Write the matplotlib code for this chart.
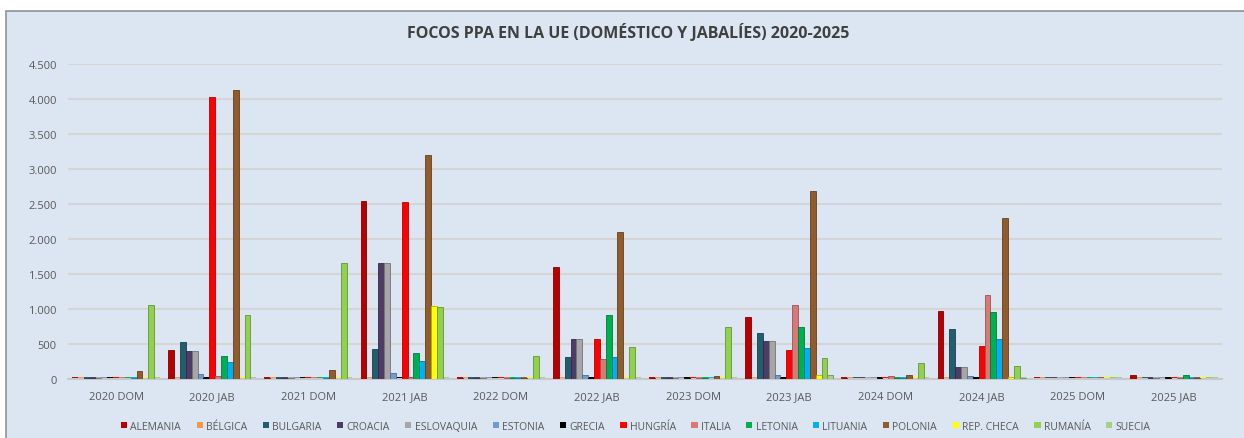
import numpy as np
import matplotlib
matplotlib.use("Agg")
import matplotlib.pyplot as plt
from matplotlib.patches import Rectangle
from matplotlib.ticker import FuncFormatter
from matplotlib.colors import to_rgb

plt.rcParams['font.family'] = ['Open Sans', 'DejaVu Sans']

# categories (x axis)
categorias = ['2020 DOM', '2020 JAB', '2021 DOM', '2021 JAB', '2022 DOM', '2022 JAB',
              '2023 DOM', '2023 JAB', '2024 DOM', '2024 JAB', '2025 DOM', '2025 JAB']

# outbreaks per country, one value per category
alemania   = [5, 410, 10, 2543, 8, 1600, 8, 890, 15, 967, 5, 62]
belgica    = [2, 3, 2, 3, 2, 3, 2, 3, 2, 3, 2, 3]
bulgaria   = [15, 533, 10, 429, 8, 314, 8, 662, 5, 719, 5, 5]
croacia    = [15, 395, 15, 1652, 8, 567, 8, 548, 5, 171, 5, 15]
eslovaquia = [15, 395, 15, 1652, 8, 567, 8, 548, 5, 171, 5, 15]
estonia    = [5, 76, 5, 81, 5, 62, 5, 62, 5, 48, 5, 5]
grecia     = [5, 10, 5, 5, 5, 10, 12, 15, 10, 33, 5, 10]
hungria    = [5, 4035, 5, 2529, 5, 576, 5, 414, 5, 476, 5, 5]
italia     = [5, 48, 5, 30, 10, 290, 15, 1057, 43, 1205, 5, 10]
letonia    = [5, 324, 5, 371, 10, 919, 8, 738, 8, 962, 5, 62]
lituania   = [8, 238, 8, 252, 15, 314, 5, 443, 8, 567, 5, 20]
polonia    = [110, 4133, 133, 3205, 15, 2105, 48, 2681, 57, 2305, 5, 20]
rep_checa  = [3, 5, 3, 1048, 3, 5, 3, 62, 3, 33, 3, 5]
rumania    = [1061, 910, 1652, 1029, 333, 457, 743, 300, 229, 190, 5, 5]
suecia     = [5, 5, 5, 5, 5, 5, 5, 62, 5, 10, 5, 5]

paises = ['ALEMANIA', 'BÉLGICA', 'BULGARIA', 'CROACIA', 'ESLOVAQUIA', 'ESTONIA', 'GRECIA',
          'HUNGRÍA', 'ITALIA', 'LETONIA', 'LITUANIA', 'POLONIA', 'REP. CHECA', 'RUMANÍA', 'SUECIA']
series = [alemania, belgica, bulgaria, croacia, eslovaquia, estonia, grecia, hungria,
          italia, letonia, lituania, polonia, rep_checa, rumania, suecia]
colores = ['#B80000', '#F79646', '#245E6E', '#4E3B66', '#A6A6A6', '#729ACF', '#000000',
           '#FF0000', '#D97877', '#00B050', '#00B0F0', '#905C2C', '#FFFF00', '#92D050', '#A9CE86']

fondo = '#DCE6F2'
fig = plt.figure(figsize=(12.44, 4.39), dpi=100, facecolor='white')
fig.patches.append(Rectangle((6 / 1244, -0.01), 1.0, (439 - 12) / 439 + 0.01,
                             transform=fig.transFigure, facecolor=fondo,
                             edgecolor='#8C9299', linewidth=1.2, zorder=-10))

ax = fig.add_axes([68 / 1244, (439 - 380) / 439, 1154 / 1244, 315 / 439])
ax.set_facecolor(fondo)

x = np.arange(len(categorias))
n = len(series)
ancho = 0.915 / n
base = 30  # thin floor strip, like the 3D base of the Excel bars
for i, (nombre, vals, c) in enumerate(zip(paises, series, colores)):
    borde = tuple(v * 0.7 for v in to_rgb(c))
    pos = x - 0.915 / 2 + ancho * (i + 0.5)
    ax.bar(pos, vals, width=ancho, color=c, edgecolor=borde, linewidth=0.6,
           label=nombre, zorder=3)
    ax.bar(pos, [base] * len(x), width=ancho, color=c, linewidth=0, zorder=2)

ax.set_xlim(-0.5, len(categorias) - 0.5)
ax.set_ylim(0, 4500)
ax.set_yticks(np.arange(0, 4501, 500))
ax.yaxis.set_major_formatter(FuncFormatter(lambda v, p: f'{int(v):,}'.replace(',', '.')))
ax.grid(axis='y', color='#D5D5D5', linewidth=1.5, zorder=0)
ax.set_xticks(x)
ax.set_xticklabels(categorias)
ax.tick_params(axis='both', length=0, labelsize=8, colors='#595959')
ax.tick_params(axis='x', pad=9)
ax.tick_params(axis='y', pad=8)
for s in ['top', 'right', 'left']:
    ax.spines[s].set_visible(False)
ax.spines['bottom'].set_color('#C8C8C8')
ax.spines['bottom'].set_linewidth(1.5)

fig.text(0.505, 0.925, 'FOCOS PPA EN LA UE (DOMÉSTICO Y JABALÍES) 2020-2025',
         ha='center', va='center', fontsize=11.5, fontweight='bold', color='#404040')

leg = fig.legend(loc='center', bbox_to_anchor=(0.511, 0.027), ncol=15, frameon=False,
                 fontsize=7.5, handlelength=0.6, handleheight=0.6, handletextpad=0.3,
                 columnspacing=1.5, labelcolor='#595959')
for h in leg.legend_handles:
    h.set_linewidth(0)

fig.savefig('out.png', dpi=100, facecolor='white')
